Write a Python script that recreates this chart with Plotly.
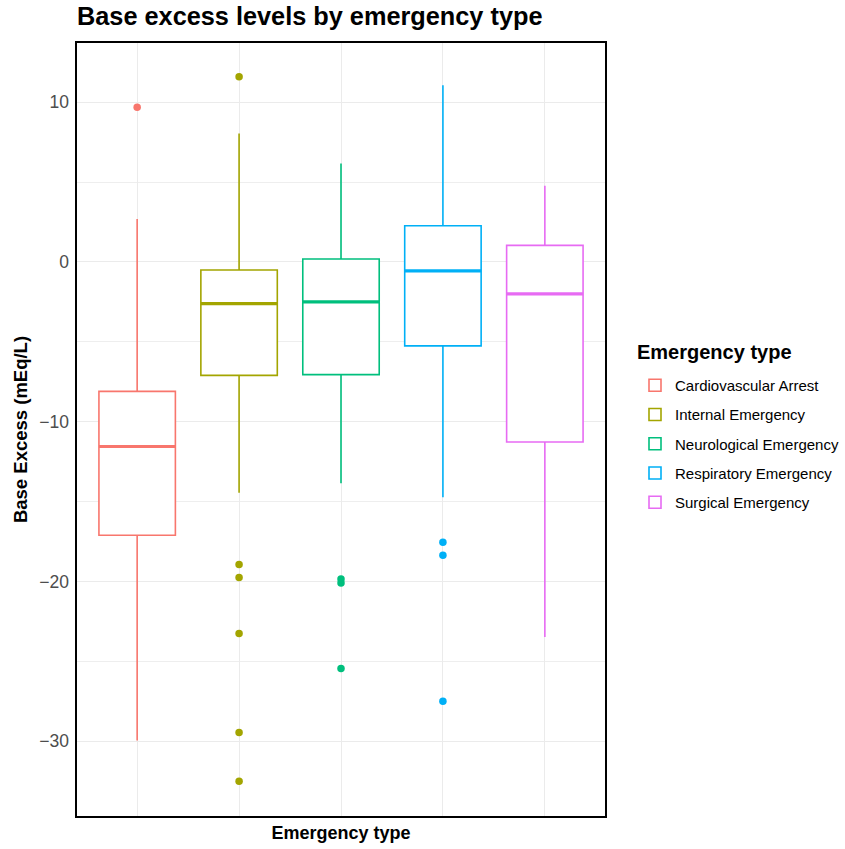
import plotly.graph_objects as go

# Emergency categories and box statistics for base excess (mEq/L)
categories = [
    "Cardiovascular Arrest",
    "Internal Emergency",
    "Neurological Emergency",
    "Respiratory Emergency",
    "Surgical Emergency",
]
q1_vals = [-17.1, -7.1, -7.05, -5.25, -11.27]
median_vals = [-11.55, -2.6, -2.5, -0.56, -2.0]
q3_vals = [-8.1, -0.5, 0.19, 2.27, 1.04]
lower_whisker = [-29.95, -14.45, -13.85, -14.73, -23.48]
upper_whisker = [2.69, 8.04, 6.17, 11.06, 4.77]
outlier_vals = [
    [9.69],
    [11.6, -18.94, -19.75, -23.25, -29.45, -32.5],
    [-19.85, -20.1, -25.45],
    [-17.55, -18.35, -27.5],
    [],
]
colors = ["#F8766D", "#A3A500", "#00BF7D", "#00B0F6", "#E76BF3"]

y_ticks = [-30, -20, -10, 0, 10]
y_tick_labels = ["\u221230", "\u221220", "\u221210", "0", "10"]

FONT = "Liberation Sans, Arial, Helvetica, sans-serif"
BOX_WIDTH = 0.75

fig = go.Figure()

for i, name in enumerate(categories):
    pos = i + 1
    col = colors[i]
    fig.add_trace(go.Box(
        name=name,
        x=[pos],
        q1=[q1_vals[i]],
        median=[median_vals[i]],
        q3=[q3_vals[i]],
        lowerfence=[lower_whisker[i]],
        upperfence=[upper_whisker[i]],
        boxpoints=False,
        width=BOX_WIDTH,
        whiskerwidth=0,
        fillcolor="white",
        line=dict(color=col, width=1.6),
        legendgroup=name,
        showlegend=True,
    ))
    # thicker median bar
    fig.add_trace(go.Scatter(
        x=[pos - BOX_WIDTH / 2, pos + BOX_WIDTH / 2],
        y=[median_vals[i], median_vals[i]],
        mode="lines",
        line=dict(color=col, width=3.2),
        showlegend=False,
        hoverinfo="skip",
        legendgroup=name,
    ))
    if outlier_vals[i]:
        fig.add_trace(go.Scatter(
            x=[pos] * len(outlier_vals[i]),
            y=outlier_vals[i],
            mode="markers",
            marker=dict(color=col, size=7.5, line=dict(width=0)),
            showlegend=False,
            legendgroup=name,
        ))

PLOT_W = 845 - 76 - 239
PLOT_H = 849 - 42 - 32

fig.update_layout(
    width=845,
    height=849,
    margin=dict(l=76, r=239, t=42, b=32, autoexpand=False),
    paper_bgcolor="white",
    plot_bgcolor="white",
    font=dict(family=FONT, color="black"),
    boxmode="overlay",
    title=dict(
        text="<b>Base excess levels by emergency type</b>",
        font=dict(size=25.3, color="black"),
        x=77 / 845,
        xref="container",
        xanchor="left",
        y=1 - 7 / 849,
        yref="container",
        yanchor="top",
    ),
    xaxis=dict(
        range=[0.4, 5.6],
        tickvals=[1, 2, 3, 4, 5],
        ticktext=["", "", "", "", ""],
        showgrid=True,
        gridcolor="#EBEBEB",
        gridwidth=1.2,
        zeroline=False,
        ticks="",
        title=dict(text="<b>Emergency type</b>", font=dict(size=18), standoff=9),
    ),
    yaxis=dict(
        range=[-34.74, 13.77],
        tickvals=y_ticks,
        ticktext=y_tick_labels,
        tickfont=dict(size=17.5, color="#4D4D4D"),
        showgrid=True,
        gridcolor="#EBEBEB",
        gridwidth=1.2,
        zeroline=False,
        ticks="",
        ticklabelstandoff=6,
        minor=dict(tickvals=[-25, -15, -5, 5], showgrid=True, gridcolor="#EEEEEE", gridwidth=1),
        title=dict(text="<b>Base Excess (mEq/L)</b>", font=dict(size=18.5), standoff=6),
    ),
    legend=dict(
        font=dict(size=15),
        x=(635 - 76) / PLOT_W,
        xanchor="left",
        y=(817 - 369) / PLOT_H,
        yanchor="top",
        tracegroupgap=6.75,
        bgcolor="rgba(0,0,0,0)",
    ),
    annotations=[
        dict(
            text="<b>Emergency type</b>",
            xref="paper", yref="paper",
            x=(635 - 76) / PLOT_W, y=(817 - 352) / PLOT_H,
            xanchor="left", yanchor="middle",
            showarrow=False,
            font=dict(size=20, color="black"),
        )
    ],
)

# black panel border
fig.add_shape(
    type="rect", xref="paper", yref="paper",
    x0=0, y0=0, x1=1, y1=1,
    line=dict(color="black", width=2),
    fillcolor="rgba(0,0,0,0)",
    layer="above",
)

fig.write_html("out.html")
